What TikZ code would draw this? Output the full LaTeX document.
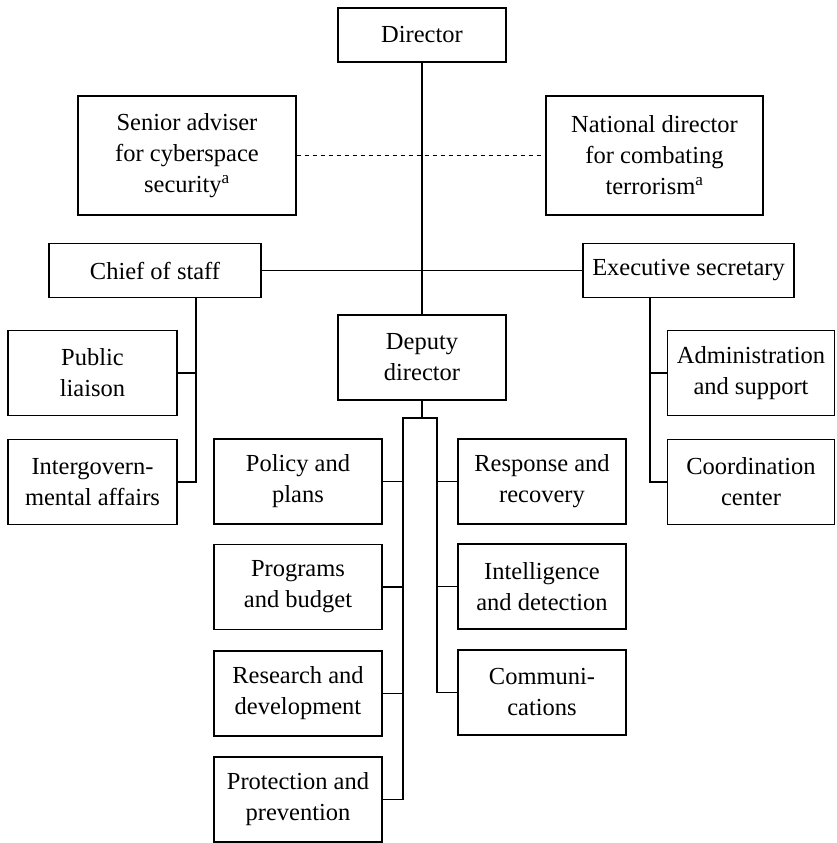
\documentclass[tikz,border=0pt]{standalone}
\usepackage{fontspec}
\setmainfont{Liberation Serif}
\begin{document}
\begin{tikzpicture}[x=1pt,y=-1pt,
  every path/.style={line width=1.2pt},
  orgbox/.style={draw, line width=1.2pt, align=center, inner sep=0pt,
    minimum width=#1, font=\fontsize{24.5}{31}\selectfont},
  orgbox/.default=168pt,
  tall/.style={minimum height=85pt},
  short/.style={minimum height=54pt}]
\useasboundingbox (0,0) rectangle (836,843);
% top
\node[orgbox, short] (dir) at (422,35) {Director};
\node[orgbox=218pt, minimum height=119pt] (senior) at (187,155.5) {Senior adviser\\for cyberspace\\security\textsuperscript{a}};
\node[orgbox=217pt, minimum height=119pt] (national) at (654.5,155.5) {National director\\for combating\\terrorism\textsuperscript{a}};
\node[orgbox=212pt, short] (chief) at (155,270.5) {Chief of staff};
\node[orgbox=211pt, short] (exec) at (688.5,270.5) {Executive secretary};
\node[orgbox, tall] (deputy) at (422,357.5) {Deputy\\director};
% left
\node[orgbox=169pt, tall] (public) at (92.5,373) {Public\\liaison};
\node[orgbox=169pt, tall] (intergov) at (92.5,482) {Intergovern-\\mental affairs};
% right
\node[orgbox=167pt, tall] (admin) at (751,373) {Administration\\and support};
\node[orgbox=167pt, tall] (coord) at (751,482) {Coordination\\center};
% middle
\node[orgbox, tall] (policy) at (298,481.5) {Policy and\\plans};
\node[orgbox, tall] (programs) at (298,587) {Programs\\and budget};
\node[orgbox, tall] (research) at (298,693.5) {Research and\\development};
\node[orgbox, tall] (protection) at (298,799.5) {Protection and\\prevention};
\node[orgbox, tall] (response) at (542,481.5) {Response and\\recovery};
\node[orgbox, tall] (intel) at (542,586.5) {Intelligence\\and detection};
\node[orgbox, tall] (comm) at (542,692.5) {Communi-\\cations};
% helper coordinates
\coordinate (cl) at (196,0);
\coordinate (el) at (650,0);
\coordinate (bl) at (403,418);
\coordinate (br) at (437,418);
% connectors
\draw (dir.south) -- (deputy.north);
\draw[dashed, dash pattern=on 4pt off 4pt] (senior.east) -- (national.west);
\draw (chief.east) -- (exec.west);
\draw (cl |- chief.south) |- (intergov.east);
\draw (public.east) -- (public.east -| cl);
\draw (el |- exec.south) |- (coord.west);
\draw (admin.west) -- (admin.west -| el);
\draw (deputy.south) -- (deputy.south |- bl);
\draw (protection.east) -| (bl) -- (br) |- (comm.west);
\draw (policy.east) -- (policy.east -| bl);
\draw (programs.east) -- (programs.east -| bl);
\draw (research.east) -- (research.east -| bl);
\draw (response.west) -- (response.west -| br);
\draw (intel.west) -- (intel.west -| br);
\end{tikzpicture}
\end{document}
